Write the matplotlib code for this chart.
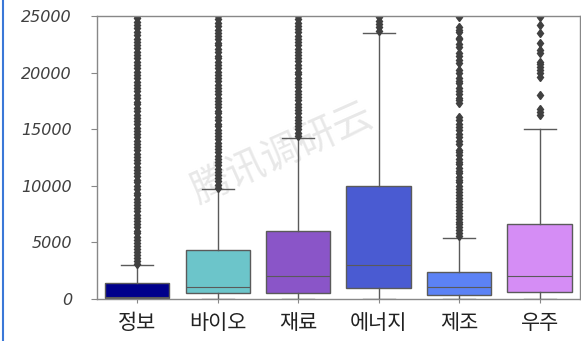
import matplotlib
matplotlib.use("Agg")
import matplotlib.pyplot as plt
from matplotlib.lines import Line2D

plt.rcParams['font.family'] = ['Noto Sans CJK KR', 'DejaVu Sans']

# categories and box statistics
fields = ['정보', '바이오', '재료', '에너지', '제조', '우주']
q1 = [100, 500, 550, 1000, 350, 600]
med = [200, 1100, 2000, 3000, 1100, 2050]
q3 = [1400, 4300, 6000, 10000, 2400, 6600]
whislo = [0, 0, 0, 0, 0, 0]
whishi = [3000, 9700, 14200, 23500, 5400, 15000]
colors = ['#00008b', '#6cc5ca', '#8a55c8', '#4a5bd2', '#5c82f5', '#d58df5']

# outliers
fl_info = [3100, 3350, 3600, 3900, 4150, 4400, 4700, 4950, 5250, 5500, 5800, 6050,
           6350, 6600, 6900, 7200, 7450, 7750, 8000, 8300, 8600, 8850, 9150, 9400,
           9700, 10000, 10300, 10550, 10850, 11150, 11400, 11700, 12000, 12300,
           12550, 12850, 13150, 13400, 13700, 14000, 14300, 14600, 14850, 15150,
           15450, 15750, 16000, 16300, 16600, 16900, 17200, 17450, 17750, 18050,
           18350, 18650, 18900, 19200, 19500, 19800, 20100, 20400, 20650, 20950,
           21250, 21550, 21850, 22150, 22400, 22700, 23000, 23300, 23600, 23900,
           24200, 24500, 24800, 25000]
fl_bio = [9800, 10100, 10400, 10650, 10950, 11250, 11500, 11800, 12100, 12400,
          12650, 12950, 13250, 13500, 13800, 14100, 14400, 14650, 14950, 15250,
          15500, 15800, 16100, 16400, 16650, 16950, 17250, 17500, 17800, 18100,
          18400, 18650, 18950, 19250, 19500, 19800, 20100, 20400, 20650, 20950,
          21250, 21500, 21800, 22100, 22400, 22650, 22950, 23250, 23500, 23800,
          24100, 24400, 24700, 25000]
fl_mat = [14400, 14700, 15000, 15250, 15550, 15850, 16100, 16400, 16700, 17000,
          17250, 17550, 17850, 18100, 18400, 18700, 19000, 19250, 19550, 19850,
          20100, 20400, 20700, 21000, 21250, 21550, 21850, 22100, 22400, 22700,
          23000, 23250, 23550, 23850, 24100, 24400, 24700, 25000]
fl_energy = [23700, 24000, 24300, 24600, 24950]
fl_mfg = [5600, 5850, 6100, 6350, 6600, 6850, 7100, 7350, 7600, 7900, 8150, 8400,
          8700, 8950, 9200, 9500, 9750, 10000, 10300, 10550, 10800, 11100, 11350,
          11600, 11900, 12150, 12400, 12700, 12950, 13200, 13700, 14000, 14300,
          14600, 14900, 15200, 15500, 15800, 16100, 17300, 17550, 17800, 18100,
          18400, 18600, 19050, 19300, 19550, 19950, 20200, 20850, 21100, 21450,
          21700, 22250, 22550, 22950, 23100, 23550, 23800, 24050, 24950]
fl_space = [16250, 16550, 16750, 18000, 19650, 19930, 20220, 20500, 20750, 20950,
            21700, 21990, 22580, 23460, 24190, 24950]
fliers = [fl_info, fl_bio, fl_mat, fl_energy, fl_mfg, fl_space]

stats = []
for i, name in enumerate(fields):
    stats.append({'label': name, 'q1': q1[i], 'med': med[i], 'q3': q3[i],
                  'whislo': whislo[i], 'whishi': whishi[i], 'fliers': fliers[i]})

fig = plt.figure(figsize=(5.81, 3.41), dpi=100)
ax = fig.add_axes([0.167, 0.123, 0.831, 0.830])

line_c = '#5a5a5a'
bp = ax.bxp(stats, positions=range(len(fields)), widths=0.8, patch_artist=True,
            boxprops=dict(edgecolor=line_c, linewidth=1),
            whiskerprops=dict(color=line_c, linewidth=1),
            capprops=dict(color=line_c, linewidth=1),
            medianprops=dict(color=line_c, linewidth=0.8),
            flierprops=dict(marker='d', markersize=4.5, markerfacecolor='#404040',
                            markeredgecolor='#404040', linestyle='none'),
            capwidths=0.4)
for patch, c in zip(bp['boxes'], colors):
    patch.set_facecolor(c)

ax.set_xlim(-0.5, len(fields) - 0.5)
ax.set_ylim(0, 25000)
ax.set_yticks([0, 5000, 10000, 15000, 20000, 25000])
ax.set_xticks(range(len(fields)))
ax.set_xticklabels(fields, fontsize=15, color='#222222')
for lab in ax.get_yticklabels():
    lab.set_fontstyle('italic')
    lab.set_fontfamily('DejaVu Sans')
    lab.set_fontsize(11.5)
    lab.set_color('#404040')
ax.tick_params(axis='y', length=4, color='#888888', pad=14)
ax.tick_params(axis='x', length=3, color='#888888', pad=6)
for sp in ax.spines.values():
    sp.set_color('#888888')
    sp.set_linewidth(1)

# watermark
fig.text(0.485, 0.55, '腾讯调研云', fontsize=28, color='#e8e8e8', rotation=24,
         ha='center', va='center', zorder=0)
ax.set_zorder(1)
ax.patch.set_alpha(0)

# blue frame edge on the left
fig.add_artist(Line2D([0.006, 0.006], [0, 1], transform=fig.transFigure,
                      color='#3a78d8', linewidth=1.5))

fig.savefig('out.png', dpi=100)
